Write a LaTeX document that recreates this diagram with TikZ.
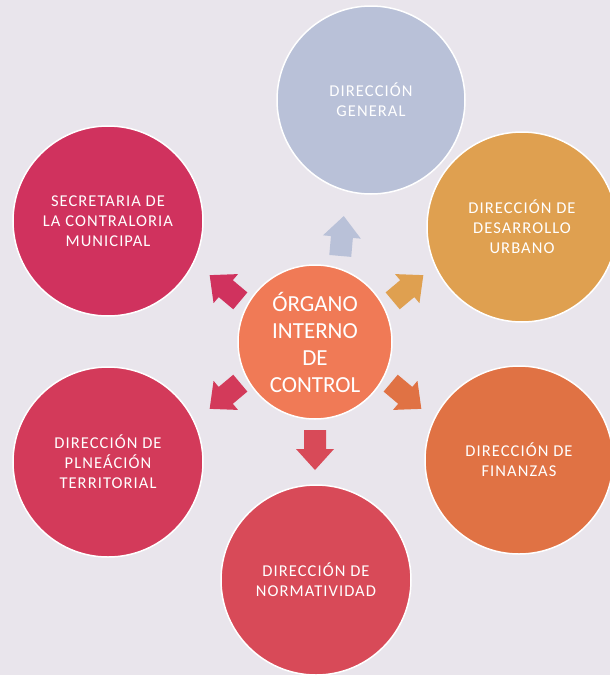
\documentclass[tikz,border=0pt]{standalone}
\usepackage{fontspec}
\setmainfont{Carlito}
\definecolor{bg}{HTML}{E9E5EC}
\definecolor{cgen}{HTML}{B9C1D8}
\definecolor{csec}{HTML}{D0325E}
\definecolor{cdes}{HTML}{DFA050}
\definecolor{cpla}{HTML}{D33A5A}
\definecolor{cfin}{HTML}{E07244}
\definecolor{cnor}{HTML}{D84A58}
\definecolor{cctr}{HTML}{F07A56}
\begin{document}
\begin{tikzpicture}[x=1pt,y=-1pt,
  circ/.style={circle, draw=white, line width=1.5pt, text=white, align=center,
    font=\fontsize{16.5}{20}\selectfont\addfontfeature{LetterSpace=6.5}, inner sep=0pt, minimum size=190pt},
  blockarrow/.pic={\fill (-20,-11) -- (-1,-11) -- (-1,-19) -- (20,0) -- (-1,19) -- (-1,11) -- (-20,11) -- cycle;}]
\fill[bg] (0,0) rectangle (610,675);
\useasboundingbox (0,0) rectangle (610,675);

\node[circ, fill=cgen, minimum size=188pt] (gen) at (371,100) {DIRECCIÓN\\GENERAL};
\node[circ, fill=csec] (sec) at (108,221) {SECRETARIA DE\\LA CONTRALORIA\\MUNICIPAL};
\node[circ, fill=cdes] (des) at (522,227) {DIRECCIÓN DE\\DESARROLLO\\URBANO};
\node[circ, fill=cpla] (pla) at (108,462) {DIRECCIÓN DE\\PLNEÁCIÓN\\TERRITORIAL};
\node[circ, fill=cfin, minimum size=188pt] (fin) at (519,460) {DIRECCIÓN DE\\FINANZAS};
\node[circ, fill=cnor] (nor) at (316,580) {DIRECCIÓN DE\\NORMATIVIDAD};
\node[circ, fill=cctr, minimum size=154pt, font=\fontsize{23}{27}\selectfont] (ctr) at (315,342) {ÓRGANO\\INTERNO\\DE\\CONTROL};

\pic[fill=cgen, rotate=85] (agen) at (342,236) {blockarrow};
\pic[fill=csec, rotate=140] (asec) at (225,288) {blockarrow};
\pic[fill=cdes, rotate=40] (ades) at (408,288) {blockarrow};
\pic[fill=cpla, rotate=220] (apla) at (225,396) {blockarrow};
\pic[fill=cfin, rotate=-40] (afin) at (406,396) {blockarrow};
\pic[fill=cnor, rotate=-90] (anor) at (315,450) {blockarrow};
\end{tikzpicture}
\end{document}
